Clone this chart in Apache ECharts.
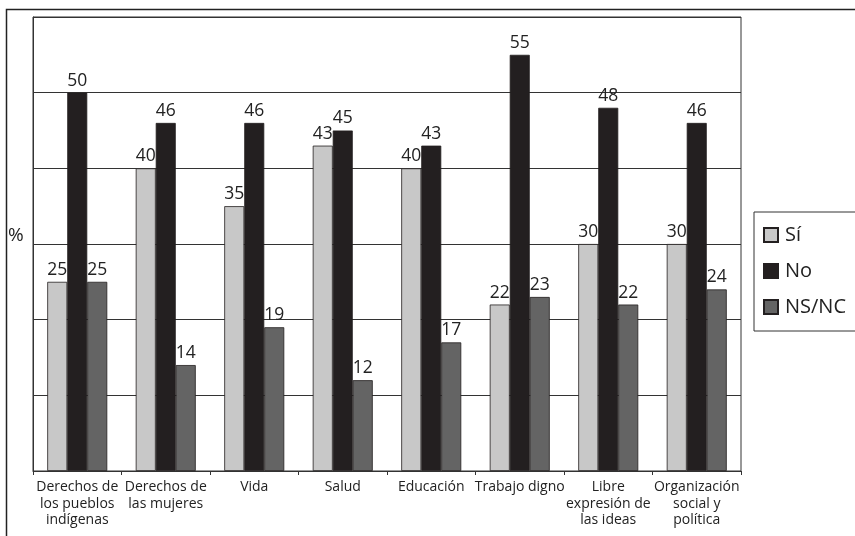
<!DOCTYPE html>
<html>
<head>
<meta charset="utf-8">
<script src="https://cdn.jsdelivr.net/npm/echarts@6/dist/echarts.min.js"></script>
<style>
html,body{margin:0;padding:0;background:#fff;}
#chart{width:855px;height:536px;}
</style>
</head>
<body>
<div id="chart"></div>
<script>
const categories = ["Derechos de\nlos pueblos\nindígenas", "Derechos de\nlas mujeres", "Vida", "Salud", "Educación", "Trabajo digno", "Libre\nexpresión de\nlas ideas", "Organización\nsocial y\npolítica"];
const seriesNames = ["Sí", "No", "NS/NC"];
const si = [25, 40, 35, 43, 40, 22, 30, 30];
const no = [50, 46, 46, 45, 43, 55, 48, 46];
const nsnc = [25, 14, 19, 12, 17, 23, 22, 24];
const colors = ["#c8c8c8", "#231f20", "#646464"];

const chart = echarts.init(document.getElementById('chart'));
const font = "'Open Sans', 'Noto Sans', sans-serif";
function mk(name, data, color) {
  return {
    name: name, type: 'bar', data: data,
    barWidth: 20, barGap: '0%',
    itemStyle: { color: color, borderColor: '#231f20', borderWidth: 0.8 },
    label: { show: true, position: 'top', distance: 3, color: '#222', fontSize: 17.5, fontFamily: font }
  };
}
chart.setOption({
  animation: false,
  backgroundColor: '#fff',
  grid: { left: 33, top: 17, right: 114, bottom: 65, show: true, borderColor: '#333', borderWidth: 1 },
  xAxis: {
    type: 'category', data: categories,
    axisLine: { lineStyle: { color: '#333', width: 1 } },
    axisTick: { show: true, length: 4, interval: 0, lineStyle: { color: '#333' } },
    axisLabel: { interval: 0, color: '#222', fontSize: 14, lineHeight: 16.5, margin: 8, fontFamily: font }
  },
  yAxis: {
    type: 'value', min: 0, max: 60, interval: 10,
    axisLine: { show: true, lineStyle: { color: '#333' } },
    axisTick: { show: false },
    axisLabel: { show: false },
    splitLine: { lineStyle: { color: '#333', width: 1 } }
  },
  legend: {
    orient: 'vertical', left: 754, top: 212,
    data: seriesNames,
    icon: 'rect', itemWidth: 14, itemHeight: 14, itemGap: 16,
    padding: [13, 30, 14, 9],
    borderColor: '#333', borderWidth: 1, backgroundColor: '#fff',
    itemStyle: { borderColor: '#231f20', borderWidth: 2 },
    textStyle: { color: '#222', fontSize: 20, fontFamily: font, padding: [0, 0, 0, 2] }
  },
  graphic: [
    { type: 'rect', left: 4, top: 7, shape: { x: 0, y: 0, width: 900, height: 600 }, style: { fill: 'none', stroke: '#222', lineWidth: 1.5 }, silent: true, z: 100 },
    { type: 'text', left: 8, top: 226, style: { text: '%', fontSize: 19, fill: '#222', fontFamily: font } }
  ],
  series: [mk(seriesNames[0], si, colors[0]), mk(seriesNames[1], no, colors[1]), mk(seriesNames[2], nsnc, colors[2])]
});
</script>
</body>
</html>
